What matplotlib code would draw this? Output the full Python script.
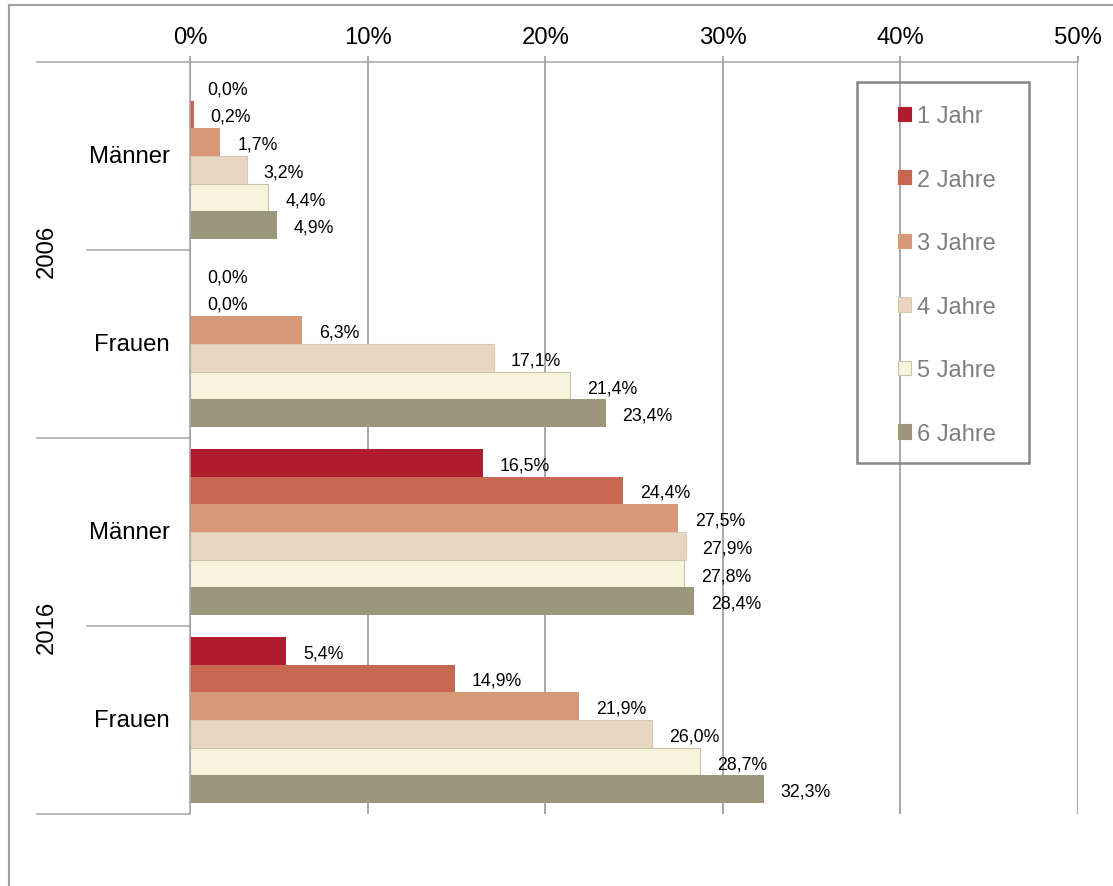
import matplotlib
matplotlib.use("Agg")
import matplotlib.pyplot as plt
from matplotlib.patches import Patch, Rectangle
from matplotlib.lines import Line2D

plt.rcParams['font.family'] = ['Liberation Sans', 'DejaVu Sans']

# data (percent), rows top to bottom
years = ['2006', '2016']
groups = ['Männer', 'Frauen', 'Männer', 'Frauen']
series = ['1 Jahr', '2 Jahre', '3 Jahre', '4 Jahre', '5 Jahre', '6 Jahre']
jahr1 = [0.0, 0.0, 16.5, 5.4]
jahre2 = [0.2, 0.0, 24.4, 14.9]
jahre3 = [1.7, 6.3, 27.5, 21.9]
jahre4 = [3.2, 17.1, 27.9, 26.0]
jahre5 = [4.4, 21.4, 27.8, 28.7]
jahre6 = [4.9, 23.4, 28.4, 32.3]
values = [jahr1, jahre2, jahre3, jahre4, jahre5, jahre6]
xticks = [0, 10, 20, 30, 40, 50]

colors = ['#B01C2E', '#C76651', '#D79877', '#E8D6C1', '#F6F4DD', '#9B967C']
edges = ['none', 'none', 'none', '#D6CAB6', '#C9C6A8', 'none']

W, H = 1113, 887
fig = plt.figure(figsize=(W / 100, H / 100), dpi=100)
ax = fig.add_axes([190 / W, 1 - 815 / H, 888 / W, 752 / H])

bar_h = 0.1473
for j, (vals, c, ec) in enumerate(zip(values, colors, edges)):
    ys = [i + 0.5 + (j - 2.5) * bar_h for i in range(len(groups))]
    ax.barh(ys, vals, height=bar_h, color=c, edgecolor=ec, linewidth=0.8, zorder=2)
    for y, v in zip(ys, vals):
        ax.annotate(f'{v:.1f}%'.replace('.', ','), xy=(v, y), xytext=(17, -2),
                    textcoords='offset pixels', ha='left', va='center',
                    fontsize=12.8, color='black', zorder=3)

ax.set_xlim(0, 50)
ax.set_ylim(4, 0)
ax.set_xticks(xticks)
ax.set_xticklabels([f'{t}%' for t in xticks])
ax.set_yticks([])
ax.xaxis.tick_top()
ax.tick_params(axis='x', top=True, bottom=False, labeltop=True, labelbottom=False,
               length=4.3, width=1.1, color='#8F8F8F', pad=5.5, labelsize=17.2)
ax.grid(axis='x', color='#8F8F8F', linewidth=1.1)
ax.set_axisbelow(True)
for side in ['bottom', 'right']:
    ax.spines[side].set_visible(False)
for side in ['top', 'left']:
    ax.spines[side].set_color('#A3A3A3')
    ax.spines[side].set_linewidth(1.1)

# category separators left of the axis
trans = ax.get_yaxis_transform()
for y in [0, 2, 4]:
    ax.add_line(Line2D([-153 / 888, 0], [y, y], transform=trans, color='#A3A3A3',
                       linewidth=1.1, clip_on=False))
for y in [1, 3]:
    ax.add_line(Line2D([-103 / 888, 0], [y, y], transform=trans, color='#A3A3A3',
                       linewidth=1.1, clip_on=False))

for i, g in enumerate(groups):
    ax.annotate(g, xy=(0, i + 0.5), xycoords=trans, xytext=(-20, 0),
                textcoords='offset pixels', ha='right', va='center', fontsize=17.2)
for k, yr in enumerate(years):
    ax.annotate(yr, xy=(0, 2 * k + 1), xycoords=trans, xytext=(-143, 0),
                textcoords='offset pixels', ha='center', va='center',
                rotation=90, fontsize=17.2)

# legend
handles = [Patch(facecolor=c, edgecolor=(ec if ec != 'none' else c), linewidth=0.8)
           for c, ec in zip(colors, edges)]
leg = fig.legend(handles, series, loc='center', bbox_to_anchor=(947 / W, 1 - 276 / H),
                 frameon=False, fontsize=17, handlelength=0.55, handleheight=0.55,
                 handletextpad=0.22, labelspacing=1.76, borderpad=0)
for t in leg.get_texts():
    t.set_color('#7F7F7F')
fig.add_artist(Rectangle((857 / W, 1 - 464 / H), 172 / W, 381 / H, transform=fig.transFigure,
                         fill=False, edgecolor='#868686', linewidth=1.8))

# outer border (left and top)
fig.add_artist(Line2D([9 / W, 9 / W], [0, 1 - 6 / H], transform=fig.transFigure,
                      color='#A0A0A0', linewidth=1.5))
fig.add_artist(Line2D([9 / W, 1], [1 - 6 / H, 1 - 6 / H], transform=fig.transFigure,
                      color='#A0A0A0', linewidth=1.5))

fig.savefig('out.png', dpi=100)
